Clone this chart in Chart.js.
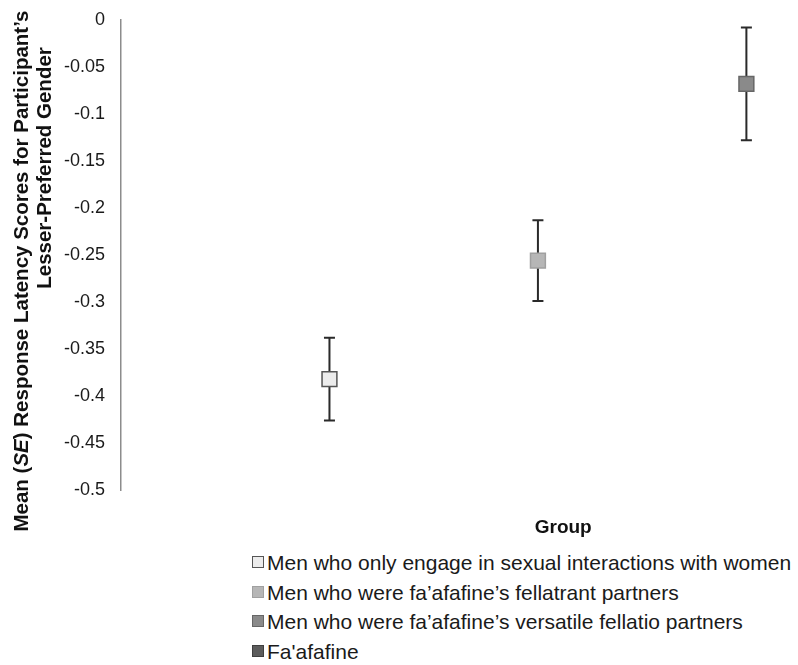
<!DOCTYPE html>
<html>
<head>
<meta charset="utf-8">
<script src="https://cdn.jsdelivr.net/npm/chart.js@4.4.1/dist/chart.umd.min.js"></script>
<style>
  html, body { margin: 0; padding: 0; background: #fff; }
  #wrap { position: relative; width: 798px; height: 665px; overflow: hidden; }
  #c { position: absolute; left: 0; top: 0; }
  #legend { position: absolute; left: 252px; top: 548px; font-family: 'Liberation Sans', Arial, sans-serif; font-size: 21px; color: #1a1a1a; }
  .item { height: 29.5px; line-height: 29.5px; white-space: nowrap; }
  .box { display: inline-block; width: 10px; height: 10px; border: 1px solid #777; margin-right: 3px; vertical-align: 2px; }
</style>
</head>
<body>
<div id="wrap">
  <canvas id="c" width="798" height="545"></canvas>
  <div id="legend"></div>
</div>
<script>
// groupes et valeurs
const groups = [
  'Men who only engage in sexual interactions with women',
  'Men who were fa\u2019afafine\u2019s fellatrant partners',
  'Men who were fa\u2019afafine\u2019s versatile fellatio partners',
  "Fa'afafine"
];
const groupX = [1, 2, 3, 4];
const means = [-0.382, -0.256, -0.068, null];
const stdErr = [0.044, 0.043, 0.060, null];
const yTicks = [0, -0.05, -0.1, -0.15, -0.2, -0.25, -0.3, -0.35, -0.4, -0.45, -0.5];

const fills = ['#ececec', '#b6b6b6', '#8a8a8a', '#5c5c5c'];
const borders = ['#555555', '#a0a0a0', '#666666', '#3f3f3f'];

const FONT = "'Liberation Sans', Arial, sans-serif";

// barres d'erreur (dessinées sous les carrés)
const errorBars = {
  id: 'errorBars',
  beforeDatasetsDraw(chart) {
    const { ctx, scales: { x, y } } = chart;
    ctx.save();
    ctx.strokeStyle = '#2a2a2a';
    ctx.lineWidth = 2;
    means.forEach((m, i) => {
      if (m === null) return;
      const px = x.getPixelForValue(groupX[i]);
      const top = y.getPixelForValue(m + stdErr[i]);
      const bot = y.getPixelForValue(m - stdErr[i]);
      ctx.beginPath();
      ctx.moveTo(px, top); ctx.lineTo(px, bot);
      ctx.moveTo(px - 5.5, top); ctx.lineTo(px + 5.5, top);
      ctx.moveTo(px - 5.5, bot); ctx.lineTo(px + 5.5, bot);
      ctx.stroke();
    });
    ctx.restore();
  }
};

// titres des axes
const axisTitles = {
  id: 'axisTitles',
  afterDraw(chart) {
    const { ctx, chartArea } = chart;
    const parts = [
      ['bold 20.5px ' + FONT, 'Mean ('],
      ['italic bold 20.5px ' + FONT, 'SE'],
      ['bold 20.5px ' + FONT, ') Response Latency Scores for Participant\u2019s']
    ];
    ctx.save();
    ctx.fillStyle = '#111';
    ctx.textBaseline = 'middle';
    ctx.textAlign = 'left';
    ctx.translate(22, 271);
    ctx.rotate(-Math.PI / 2);
    let total = 0;
    parts.forEach(p => { ctx.font = p[0]; total += ctx.measureText(p[1]).width; });
    let pos = -total / 2;
    parts.forEach(p => { ctx.font = p[0]; ctx.fillText(p[1], pos, 0); pos += ctx.measureText(p[1]).width; });
    ctx.font = 'bold 20.5px ' + FONT;
    ctx.textAlign = 'center';
    ctx.fillText('Lesser-Preferred Gender', 271 - 168, 23);
    ctx.restore();

    ctx.save();
    ctx.font = 'bold 19px ' + FONT;
    ctx.fillStyle = '#111';
    ctx.textAlign = 'center';
    ctx.textBaseline = 'middle';
    const gx = chartArea.left + (chartArea.right - chartArea.left) * 0.665;
    ctx.fillText('Group', gx, chartArea.bottom + 38);
    ctx.restore();
  }
};

const datasets = groups.map((g, i) => ({
  label: g,
  data: means[i] === null ? [] : [{ x: groupX[i], y: means[i] }],
  backgroundColor: fills[i],
  borderColor: borders[i],
  borderWidth: 1.5,
  pointStyle: 'rect',
  pointRadius: 10.5,
  pointHoverRadius: 10.5
}));

const chart = new Chart(document.getElementById('c'), {
  type: 'scatter',
  data: { datasets: datasets },
  options: {
    responsive: false,
    animation: false,
    events: [],
    layout: { padding: { top: 20, bottom: 55, left: 0, right: 0 } },
    plugins: { legend: { display: false }, tooltip: { enabled: false } },
    scales: {
      x: {
        type: 'linear', min: 0, max: 3.19, display: false
      },
      y: {
        min: -0.5, max: 0,
        afterBuildTicks(scale) { scale.ticks = yTicks.map(v => ({ value: v })); },
        afterFit(scale) {
          scale.width = 121;
          scale.paddingTop = 0; scale.paddingBottom = 0;
        },
        grid: { display: false, drawTicks: false },
        border: { display: true, color: '#8c8c8c', width: 1.5 },
        ticks: {
          padding: 16,
          color: '#1a1a1a',
          font: { family: FONT, size: 18 },
          callback: v => String(+Number(v).toFixed(2))
        }
      }
    }
  },
  plugins: [errorBars, axisTitles]
});

// légende en HTML, construite depuis les datasets
const leg = document.getElementById('legend');
chart.data.datasets.forEach(ds => {
  const row = document.createElement('div');
  row.className = 'item';
  const b = document.createElement('span');
  b.className = 'box';
  b.style.background = ds.backgroundColor;
  b.style.borderColor = ds.borderColor;
  row.appendChild(b);
  row.appendChild(document.createTextNode(ds.label));
  leg.appendChild(row);
});
</script>
</body>
</html>
